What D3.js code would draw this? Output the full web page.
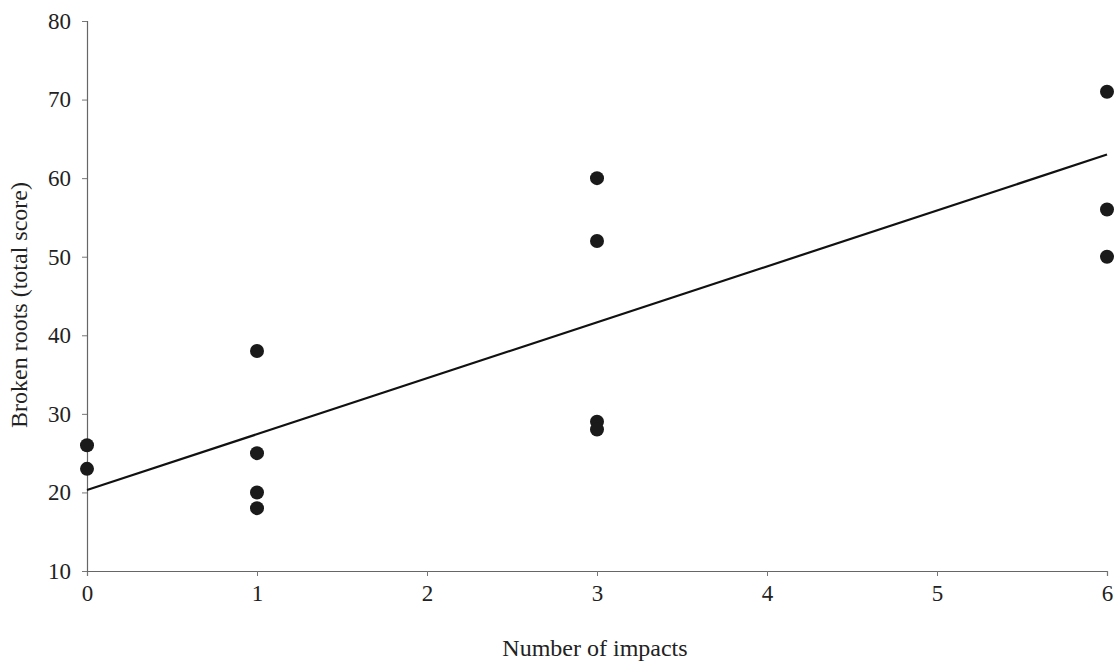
<!DOCTYPE html>
<html><head><meta charset="utf-8">
<script src="https://cdn.jsdelivr.net/npm/d3@7"></script>
<style>body{margin:0;background:#fff}svg{display:block}text{font-family:"Liberation Serif","Times New Roman",serif;fill:#222}</style>
</head><body><svg id="c" width="1118" height="666"></svg>
<script>
const impacts = [0,0,1,1,1,1,3,3,3,3,6,6,6];
const brokenRoots = [26,23,38,25,20,18,60,52,29,28,71,56,50];
const trendX = [0,6];
const trendY = [20.3,63];
const xTicks = [0,1,2,3,4,5,6];
const yTicks = [10,20,30,40,50,60,70,80];

const svg = d3.select("#c");
const x = d3.scaleLinear().domain([0,6]).range([87,1107]);
const y = d3.scaleLinear().domain([10,80]).range([571,21]);

const gx = svg.append("g").attr("transform","translate(0,571)")
  .call(d3.axisBottom(x).tickValues(xTicks).tickSize(5).tickPadding(9).tickFormat(d3.format("d")));
const gy = svg.append("g").attr("transform","translate(87,0)")
  .call(d3.axisLeft(y).tickValues(yTicks).tickSize(5).tickPadding(11).tickFormat(d3.format("d")));
[gx,gy].forEach(g=>{
  g.select(".domain").attr("stroke","#666").attr("stroke-width",1.2);
  g.selectAll(".tick line").attr("stroke","#777");
  g.selectAll(".tick text").style("font-size","23px").attr("fill","#222");
});

svg.append("path")
  .datum(trendX.map((d,i)=>[d,trendY[i]]))
  .attr("d", d3.line().x(d=>x(d[0])).y(d=>y(d[1])))
  .attr("fill","none").attr("stroke","#111").attr("stroke-width",2.2);

svg.append("g").selectAll("circle").data(impacts).join("circle")
  .attr("cx",d=>x(d)).attr("cy",(d,i)=>y(brokenRoots[i])).attr("r",7).attr("fill","#1a1a1a");

svg.append("text").attr("x",595).attr("y",656).attr("text-anchor","middle").style("font-size","24px").text("Number of impacts");
svg.append("text").attr("transform","translate(27,305) rotate(-90)").attr("text-anchor","middle").style("font-size","24px").text("Broken roots (total score)");
</script></body></html>
